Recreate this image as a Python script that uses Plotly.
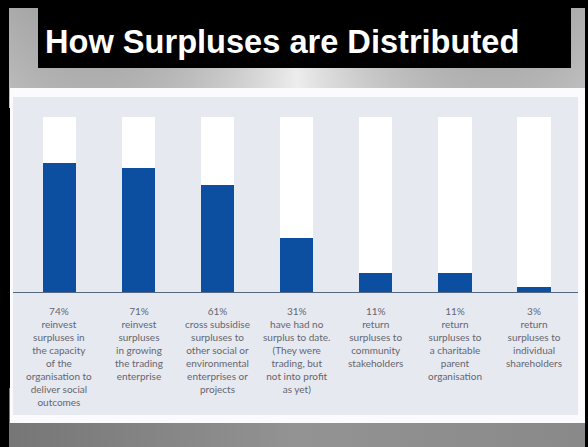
import base64
import plotly.graph_objects as go

# ---------------- data ----------------
categories = ["capacity", "growing", "cross subsidise", "no surplus",
              "community", "charitable parent", "shareholders"]
values = [74, 71, 61, 31, 11, 11, 3]
descriptions = [
    ["reinvest", "surpluses in", "the capacity", "of the", "organisation to", "deliver social", "outcomes"],
    ["reinvest", "surpluses", "in growing", "the trading", "enterprise"],
    ["cross subsidise", "surpluses to", "other social or", "environmental", "enterprises or", "projects"],
    ["have had no", "surplus to date.", "(They were", "trading, but", "not into profit", "as yet)"],
    ["return", "surpluses to", "community", "stakeholders"],
    ["return", "surpluses to", "a charitable", "parent", "organisation"],
    ["return", "surpluses to", "individual", "shareholders"],
]
title_text = "How Surpluses are Distributed"

# ---------------- geometry helpers ----------------
W, H = 588, 447
def px(x):
    return x / W
def py(y):
    return 1 - y / H

remainder = [100 - v for v in values]

fig = go.Figure()
fig.add_trace(go.Bar(x=categories, y=values, marker=dict(color="#0c4fa0", line=dict(width=0)),
                     width=0.42, hoverinfo="skip"))
fig.add_trace(go.Bar(x=categories, y=remainder, marker=dict(color="#ffffff", line=dict(width=0)),
                     width=0.42, hoverinfo="skip"))

# background gradient (slide)
svg = """<svg xmlns='http://www.w3.org/2000/svg' width='576' height='439' viewBox='0 0 576 439' preserveAspectRatio='none'>
<defs>
<linearGradient id='v' x1='0' y1='0' x2='0' y2='1'>
<stop offset='0' stop-color='#c2c2c2'/><stop offset='1' stop-color='#d8d8d8'/></linearGradient>
<linearGradient id='h' x1='0' y1='0' x2='1' y2='0'>
<stop offset='0' stop-color='#000' stop-opacity='0.12'/>
<stop offset='0.5' stop-color='#fff' stop-opacity='0.6'/>
<stop offset='1' stop-color='#000' stop-opacity='0.1'/></linearGradient>
<linearGradient id='b' x1='0' y1='0' x2='1' y2='0'>
<stop offset='0' stop-color='#767676'/><stop offset='0.5' stop-color='#939393'/><stop offset='1' stop-color='#898989'/></linearGradient>
</defs>
<rect x='0' y='0' width='576' height='100' fill='url(#v)'/>
<rect x='0' y='0' width='576' height='100' fill='url(#h)'/>
<rect x='0' y='380' width='576' height='59' fill='url(#b)'/>
</svg>"""
src = "data:image/svg+xml;base64," + base64.b64encode(svg.encode()).decode()
fig.add_layout_image(dict(source=src, xref="paper", yref="paper", x=px(9), y=py(8),
                          sizex=576 / W, sizey=439 / H, xanchor="left", yanchor="top",
                          sizing="stretch", layer="below"))

shapes = [
    # title box
    dict(type="rect", xref="paper", yref="paper", x0=px(38), x1=px(571), y0=py(68), y1=py(8),
         fillcolor="#000000", line=dict(width=0), layer="below"),
    # white panel
    dict(type="rect", xref="paper", yref="paper", x0=px(10), x1=px(585), y0=py(423), y1=py(88),
         fillcolor="#fbfbfd", line=dict(width=0), layer="below"),
    # chart background
    dict(type="rect", xref="paper", yref="paper", x0=px(13), x1=px(578), y0=py(415), y1=py(97),
         fillcolor="#e7e9f1", line=dict(width=0), layer="below"),
]

annotations = [
    dict(text=f"<b>{title_text}</b>", xref="paper", yref="paper", x=px(43), y=py(42),
         xanchor="left", yanchor="middle", showarrow=False,
         font=dict(family="Liberation Sans, Arial", size=32.6, color="#ffffff")),
]
for cat, v, lines in zip(categories, values, descriptions):
    annotations.append(dict(
        text="<br>".join([f"{v}%"] + lines), x=cat, xref="x", yref="paper", y=py(303),
        xanchor="center", yanchor="top", showarrow=False, align="center",
        font=dict(family="Lato, Open Sans, sans-serif", size=10, color="#64666e")))

# axis ranges: baseline at y=292px, 100% at y=117px; plot area 97..415 px
ppu = (292 - 117) / 100.0
y_top = (292 - 97) / ppu
y_bot = -(415 - 292) / ppu
pitch = 79.1
x_lo = -(59.5 - 13) / pitch
x_hi = 6 + (578 - 534) / pitch

fig.update_layout(
    width=W, height=H, margin=dict(l=0, r=0, t=0, b=0),
    paper_bgcolor="#000000", plot_bgcolor="rgba(0,0,0,0)",
    barmode="stack", bargap=0, showlegend=False,
    shapes=shapes, annotations=annotations,
    xaxis=dict(domain=[px(13), px(578)], range=[x_lo, x_hi], showticklabels=False,
               showgrid=False, zeroline=False, ticks="", fixedrange=True),
    yaxis=dict(domain=[py(415), py(97)], range=[y_bot, y_top], showticklabels=False,
               showgrid=False, zeroline=True, zerolinecolor="#55677f", zerolinewidth=1.2,
               ticks="", fixedrange=True),
)

fig.write_html("out.html",
               post_script="document.body.style.margin='0';document.body.style.overflow='hidden';",
               config={"displayModeBar": False})
